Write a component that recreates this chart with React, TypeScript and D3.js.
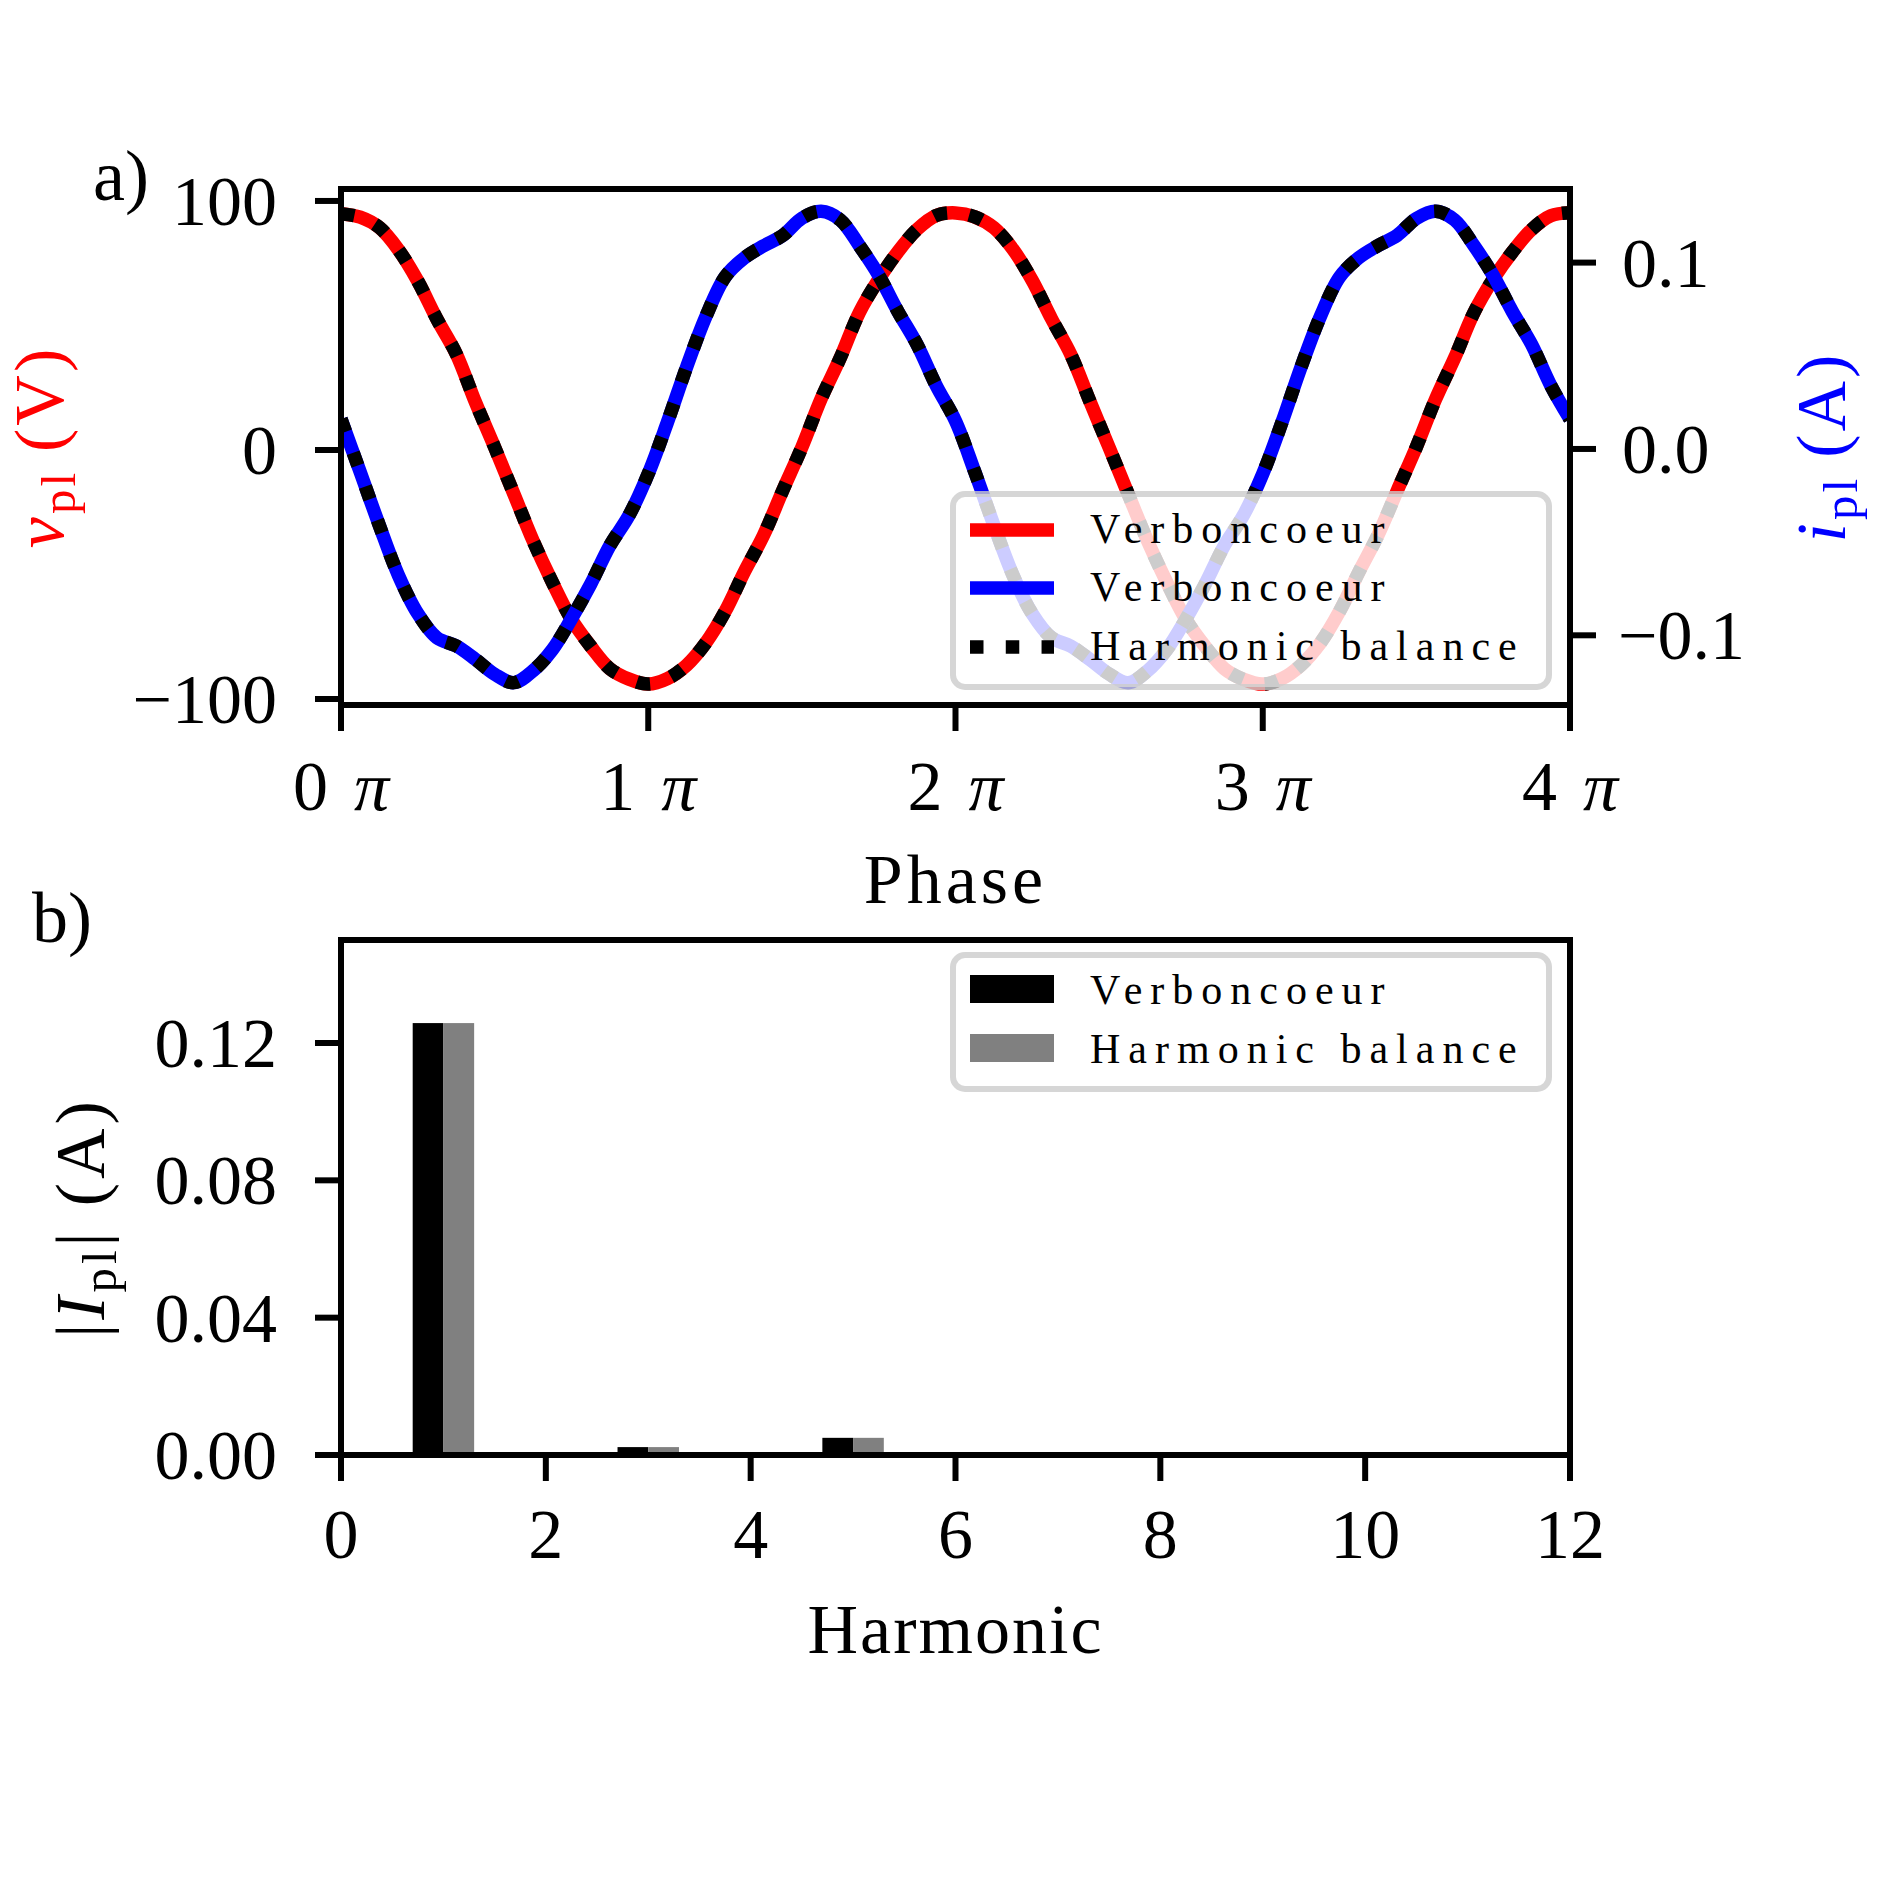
import React from "react";
import * as d3 from "d3";

// phase samples, in units of pi
const phasePi = [
  0, 0.0625, 0.125, 0.1875, 0.25, 0.3125, 0.375, 0.4375, 0.5, 0.5625, 0.625, 0.6875, 0.75, 0.8125, 0.875, 0.9375,
  1, 1.0625, 1.125, 1.1875, 1.25, 1.3125, 1.375, 1.4375, 1.5, 1.5625, 1.625, 1.6875, 1.75, 1.8125, 1.875, 1.9375,
  2, 2.0625, 2.125, 2.1875, 2.25, 2.3125, 2.375, 2.4375, 2.5, 2.5625, 2.625, 2.6875, 2.75, 2.8125, 2.875, 2.9375,
  3, 3.0625, 3.125, 3.1875, 3.25, 3.3125, 3.375, 3.4375, 3.5, 3.5625, 3.625, 3.6875, 3.75, 3.8125, 3.875, 3.9375,
  4,
];

// plasma voltage (V)
const vPl = [
  94.9, 93.5, 89.3, 80.3, 67.8, 52.5, 38.6, 19.2, 1.1, -17.6, -36.4, -53.0, -68.0, -78.8, -87.8, -92.0,
  -94.0, -91.8, -86.4, -77.4, -64.9, -49.0, -34.3, -16.3, 1.1, 20.5, 37.0, 55.3, 68.5, 79.6, 88.6, 94.2,
  95.2, 93.6, 89.2, 80.5, 68.0, 52.7, 38.4, 19.5, 1.0, -17.8, -36.5, -53.1, -68.1, -78.9, -87.8, -92.1,
  -94.0, -91.8, -86.3, -77.5, -64.8, -49.1, -34.2, -16.4, 1.2, 20.4, 37.1, 55.2, 68.6, 79.5, 88.5, 94.1,
  95.3,
];

// plasma current (A)
const iPl = [
  0.016, -0.0124, -0.0411, -0.068, -0.0884, -0.1014, -0.1057, -0.1129, -0.1209, -0.1254, -0.119, -0.1078, -0.0911, -0.0726, -0.0519, -0.0356,
  -0.0133, 0.0144, 0.044, 0.071, 0.0923, 0.1025, 0.109, 0.1145, 0.1238, 0.1275, 0.1229, 0.109, 0.0932, 0.0738, 0.056, 0.0339,
  0.015, -0.0122, -0.0409, -0.0679, -0.0885, -0.1013, -0.1058, -0.113, -0.1208, -0.1255, -0.1191, -0.1077, -0.0912, -0.0725, -0.0518, -0.0355,
  -0.0134, 0.0143, 0.0441, 0.0711, 0.0922, 0.1026, 0.1091, 0.1146, 0.1237, 0.1276, 0.1228, 0.1091, 0.0931, 0.0737, 0.0561, 0.034,
  0.016,
];

const phaseTicks = [0, 1, 2, 3, 4];
const vTicks = [-100, 0, 100];
const iTicks = [-0.1, 0, 0.1];

// harmonic spectrum of the current
const harmonics = [1, 2, 3, 4, 5, 6, 7, 8, 9, 10, 11];
const ampVerboncoeur = [0.1258, 0, 0.0023, 0, 0.005, 0, 0.0003, 0, 0.0001, 0, 0.0001];
const ampHarmonicBalance = [0.1258, 0, 0.0023, 0, 0.005, 0, 0.0003, 0, 0.0001, 0, 0.0001];
const harmonicTicks = [0, 2, 4, 6, 8, 10, 12];
const ampTicks = [0, 0.04, 0.08, 0.12];

const W = 1889;
const L = 341;
const R = 1570;
const T1 = 189;
const B1 = 705;
const T2 = 940;
const B2 = 1455;

const FONT = "'Liberation Serif', 'Times New Roman', serif";
const FS = 70;
const LFS = 42;
const TICK = 26;
const SPINE = 6;
const LW = 13.5;

export default function App() {
  const x1 = d3.scaleLinear().domain([0, 4]).range([L, R]);
  const yV = d3.scaleLinear().domain([-102.4, 104.8]).range([B1, T1]);
  const yI = d3.scaleLinear().domain([-0.1374, 0.1395]).range([B1, T1]);

  const x2 = d3.scaleLinear().domain([0, 12]).range([L, R]);
  const y2 = d3.scaleLinear().domain([0, 0.15]).range([B2, T2]);

  const vLine = d3
    .line<number>()
    .x((_, i) => x1(phasePi[i]))
    .y((d) => yV(d))
    .curve(d3.curveCatmullRom);
  const iLine = d3
    .line<number>()
    .x((_, i) => x1(phasePi[i]))
    .y((d) => yI(d))
    .curve(d3.curveCatmullRom);

  const vPath = vLine(vPl) || "";
  const iPath = iLine(iPl) || "";
  const dotted = `${LW} ${LW * 1.65}`;
  const barW = x2(0.3) - x2(0);
  const legX = 953;
  const legW = 596;

  return (
    <svg
      width={W}
      height={W}
      viewBox={`0 0 ${W} ${W}`}
      style={{ position: "absolute", left: 0, top: 0, background: "#fff" }}
      fontFamily={FONT}
    >
      <rect x={0} y={0} width={W} height={W} fill="#fff" />
      <defs>
        <clipPath id="clipTop">
          <rect x={L} y={T1} width={R - L} height={B1 - T1} />
        </clipPath>
      </defs>

      {/* ---------- panel a ---------- */}
      <g clipPath="url(#clipTop)">
        <path d={vPath} fill="none" stroke="#ff0000" strokeWidth={LW} />
        <path d={vPath} fill="none" stroke="#000" strokeWidth={LW} strokeDasharray={dotted} />
        <path d={iPath} fill="none" stroke="#0000ff" strokeWidth={LW} />
        <path d={iPath} fill="none" stroke="#000" strokeWidth={LW} strokeDasharray={dotted} />
      </g>
      <rect x={L} y={T1} width={R - L} height={B1 - T1} fill="none" stroke="#000" strokeWidth={SPINE} />

      {vTicks.map((t) => (
        <g key={`v${t}`}>
          <line x1={L - TICK} x2={L} y1={yV(t)} y2={yV(t)} stroke="#000" strokeWidth={SPINE} />
          <text x={L - TICK - 38} y={yV(t) + 24} fontSize={FS} textAnchor="end">
            {t < 0 ? `\u2212${-t}` : t}
          </text>
        </g>
      ))}
      {iTicks.map((t) => (
        <g key={`i${t}`}>
          <line x1={R} x2={R + TICK} y1={yI(t)} y2={yI(t)} stroke="#000" strokeWidth={SPINE} />
          <text x={R + TICK + (t < 0 ? 22 : 26)} y={yI(t) + 24} fontSize={FS}>
            {t < 0 ? `\u2212${(-t).toFixed(1)}` : t.toFixed(1)}
          </text>
        </g>
      ))}
      {phaseTicks.map((t) => (
        <g key={`p${t}`}>
          <line x1={x1(t)} x2={x1(t)} y1={B1} y2={B1 + TICK} stroke="#000" strokeWidth={SPINE} />
          <text x={x1(t)} y={810} fontSize={FS} textAnchor="middle">
            {t}
            <tspan dx={26} fontStyle="italic">
              π
            </tspan>
          </text>
        </g>
      ))}
      <text x={(L + R) / 2} y={903} fontSize={FS} textAnchor="middle" letterSpacing={4}>
        Phase
      </text>
      <text
        transform={`translate(63,${(T1 + B1) / 2}) rotate(-90)`}
        fontSize={FS}
        textAnchor="middle"
        fill="#ff0000"
        letterSpacing={3}
      >
        <tspan fontStyle="italic">v</tspan>
        <tspan fontSize={FS * 0.7} dy={12}>
          pl
        </tspan>
        <tspan dy={-12} dx={18}>
          (V)
        </tspan>
      </text>
      <text
        transform={`translate(1845,${(T1 + B1) / 2}) rotate(-90)`}
        fontSize={FS}
        textAnchor="middle"
        fill="#0000ff"
        letterSpacing={3}
      >
        <tspan fontStyle="italic">i</tspan>
        <tspan fontSize={FS * 0.7} dy={12}>
          pl
        </tspan>
        <tspan dy={-12} dx={18}>
          (A)
        </tspan>
      </text>
      <text x={93} y={200} fontSize={72}>
        a)
      </text>

      {/* legend a */}
      <rect
        x={legX}
        y={494}
        width={legW}
        height={193}
        rx={12}
        fill="rgba(255,255,255,0.8)"
        stroke="rgba(204,204,204,0.8)"
        strokeWidth={6}
      />
      <line x1={970} x2={1054} y1={530} y2={530} stroke="#ff0000" strokeWidth={LW} />
      <line x1={970} x2={1054} y1={588} y2={588} stroke="#0000ff" strokeWidth={LW} />
      <line x1={970} x2={1054} y1={647} y2={647} stroke="#000" strokeWidth={LW} strokeDasharray={dotted} />
      <g fontSize={LFS} letterSpacing={8}>
        <text x={1090} y={543}>Verboncoeur</text>
        <text x={1090} y={601}>Verboncoeur</text>
        <text x={1090} y={660}>Harmonic balance</text>
      </g>

      {/* ---------- panel b ---------- */}
      {harmonics.map((h, k) => (
        <g key={`h${h}`}>
          <rect
            x={x2(h) - barW}
            y={y2(ampVerboncoeur[k])}
            width={barW}
            height={y2(0) - y2(ampVerboncoeur[k])}
            fill="#000"
          />
          <rect
            x={x2(h)}
            y={y2(ampHarmonicBalance[k])}
            width={barW}
            height={y2(0) - y2(ampHarmonicBalance[k])}
            fill="#808080"
          />
        </g>
      ))}
      <rect x={L} y={T2} width={R - L} height={B2 - T2} fill="none" stroke="#000" strokeWidth={SPINE} />
      {ampTicks.map((t) => (
        <g key={`a${t}`}>
          <line x1={L - TICK} x2={L} y1={y2(t)} y2={y2(t)} stroke="#000" strokeWidth={SPINE} />
          <text x={L - TICK - 38} y={y2(t) + 24} fontSize={FS} textAnchor="end">
            {t.toFixed(2)}
          </text>
        </g>
      ))}
      {harmonicTicks.map((t) => (
        <g key={`x${t}`}>
          <line x1={x2(t)} x2={x2(t)} y1={B2} y2={B2 + TICK} stroke="#000" strokeWidth={SPINE} />
          <text x={x2(t)} y={1558} fontSize={FS} textAnchor="middle">
            {t}
          </text>
        </g>
      ))}
      <text x={(L + R) / 2} y={1653} fontSize={FS} textAnchor="middle" letterSpacing={2}>
        Harmonic
      </text>
      <text
        transform={`translate(104,${(T2 + B2) / 2 + 20}) rotate(-90)`}
        fontSize={FS}
        textAnchor="middle"
        letterSpacing={4}
      >
        |<tspan fontStyle="italic">I</tspan>
        <tspan fontSize={FS * 0.7} dy={12}>
          pl
        </tspan>
        <tspan dy={-12}>|</tspan>
        <tspan dx={22}>(A)</tspan>
      </text>
      <text x={32} y={942} fontSize={72}>
        b)
      </text>

      {/* legend b */}
      <rect
        x={legX}
        y={955}
        width={legW}
        height={134}
        rx={12}
        fill="rgba(255,255,255,0.8)"
        stroke="rgba(204,204,204,0.8)"
        strokeWidth={6}
      />
      <rect x={970} y={975} width={84} height={28} fill="#000" />
      <rect x={970} y={1034} width={84} height={28} fill="#808080" />
      <g fontSize={LFS} letterSpacing={8}>
        <text x={1090} y={1004}>Verboncoeur</text>
        <text x={1090} y={1063}>Harmonic balance</text>
      </g>
    </svg>
  );
}
